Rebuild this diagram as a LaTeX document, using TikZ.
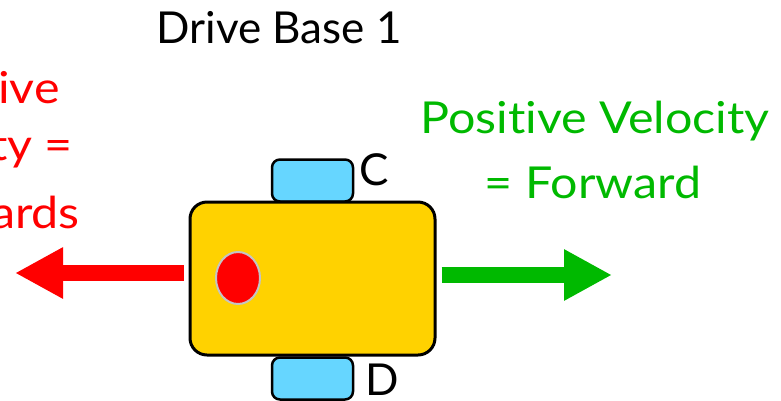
\documentclass[tikz,border=0pt]{standalone}
\usepackage{fontspec}
\setmainfont{Lato}[Ligatures=NoCommon]
\newfontfamily\widefont{Lato}[Ligatures=NoCommon, FakeStretch=1.1]
\usetikzlibrary{arrows.meta,shapes.geometric}
\definecolor{bodyyellow}{HTML}{FFD200}
\definecolor{wheelblue}{HTML}{66D6FF}
\definecolor{fwdgreen}{HTML}{00B900}
\definecolor{backred}{HTML}{FF0000}
\definecolor{dotrim}{HTML}{C4C4C4}
\tikzset{
  x=1pt, y=-1pt,
  lbl/.style={font=\fontsize{44}{44}\selectfont, inner sep=0pt},
  dirlbl/.style={font=\widefont\fontsize{44}{44}\selectfont, inner sep=0pt},
  chassis/.style={draw=black, line width=3pt, fill=bodyyellow, rounded corners=17pt,
    minimum width=245pt, minimum height=153pt, inner sep=0pt},
  wheel/.style={draw=black, line width=2.5pt, fill=wheelblue, rounded corners=8pt,
    minimum width=81pt, minimum height=42pt, inner sep=0pt},
  marker/.style={ellipse, draw=dotrim, line width=2pt, fill=backred,
    minimum width=44pt, minimum height=52pt, inner sep=0pt},
  velarrow/.style={line width=16pt, -{Triangle[length=48pt,width=48pt]}},
}
\begin{document}
\begin{tikzpicture}
\useasboundingbox (0,0) rectangle (781,400);

% wheels sit behind the chassis
\node[wheel] (wheelC) at (312.5,180.5) {};
\node[wheel] (wheelD) at (312.5,378.5) {};
\node[chassis] (base) at (312.5,278.5) {};
\node[marker] (dot) at (238,278) {};

% wheel labels
\node[lbl, anchor=base west] (labC) at (359,185) {C};
\node[lbl, anchor=base west] (labD) at (365,395) {D};

% title
\node[lbl, anchor=base] (title) at (279,43) {Drive Base 1};

% forward direction
\node[dirlbl, anchor=base, text=fwdgreen] (pos1) at (595,133) {Positive Velocity};
\node[dirlbl, anchor=base, text=fwdgreen] (pos2) at (593,198) {= Forward};
\coordinate (gtip) at (612,275);
\draw[velarrow, fwdgreen] ([xshift=5pt]base.east |- gtip) -- (gtip);

% backward direction
\node[dirlbl, anchor=base east, text=backred] (neg1) at (60,103) {Negative};
\node[dirlbl, anchor=base east, text=backred] (neg2) at (73,160) {Velocity =};
\node[dirlbl, anchor=base east, text=backred] (neg3) at (80,228) {Backwards};
\coordinate (rtip) at (15,273);
\draw[velarrow, backred] ([xshift=-5pt]base.west |- rtip) -- (rtip);
\end{tikzpicture}
\end{document}
